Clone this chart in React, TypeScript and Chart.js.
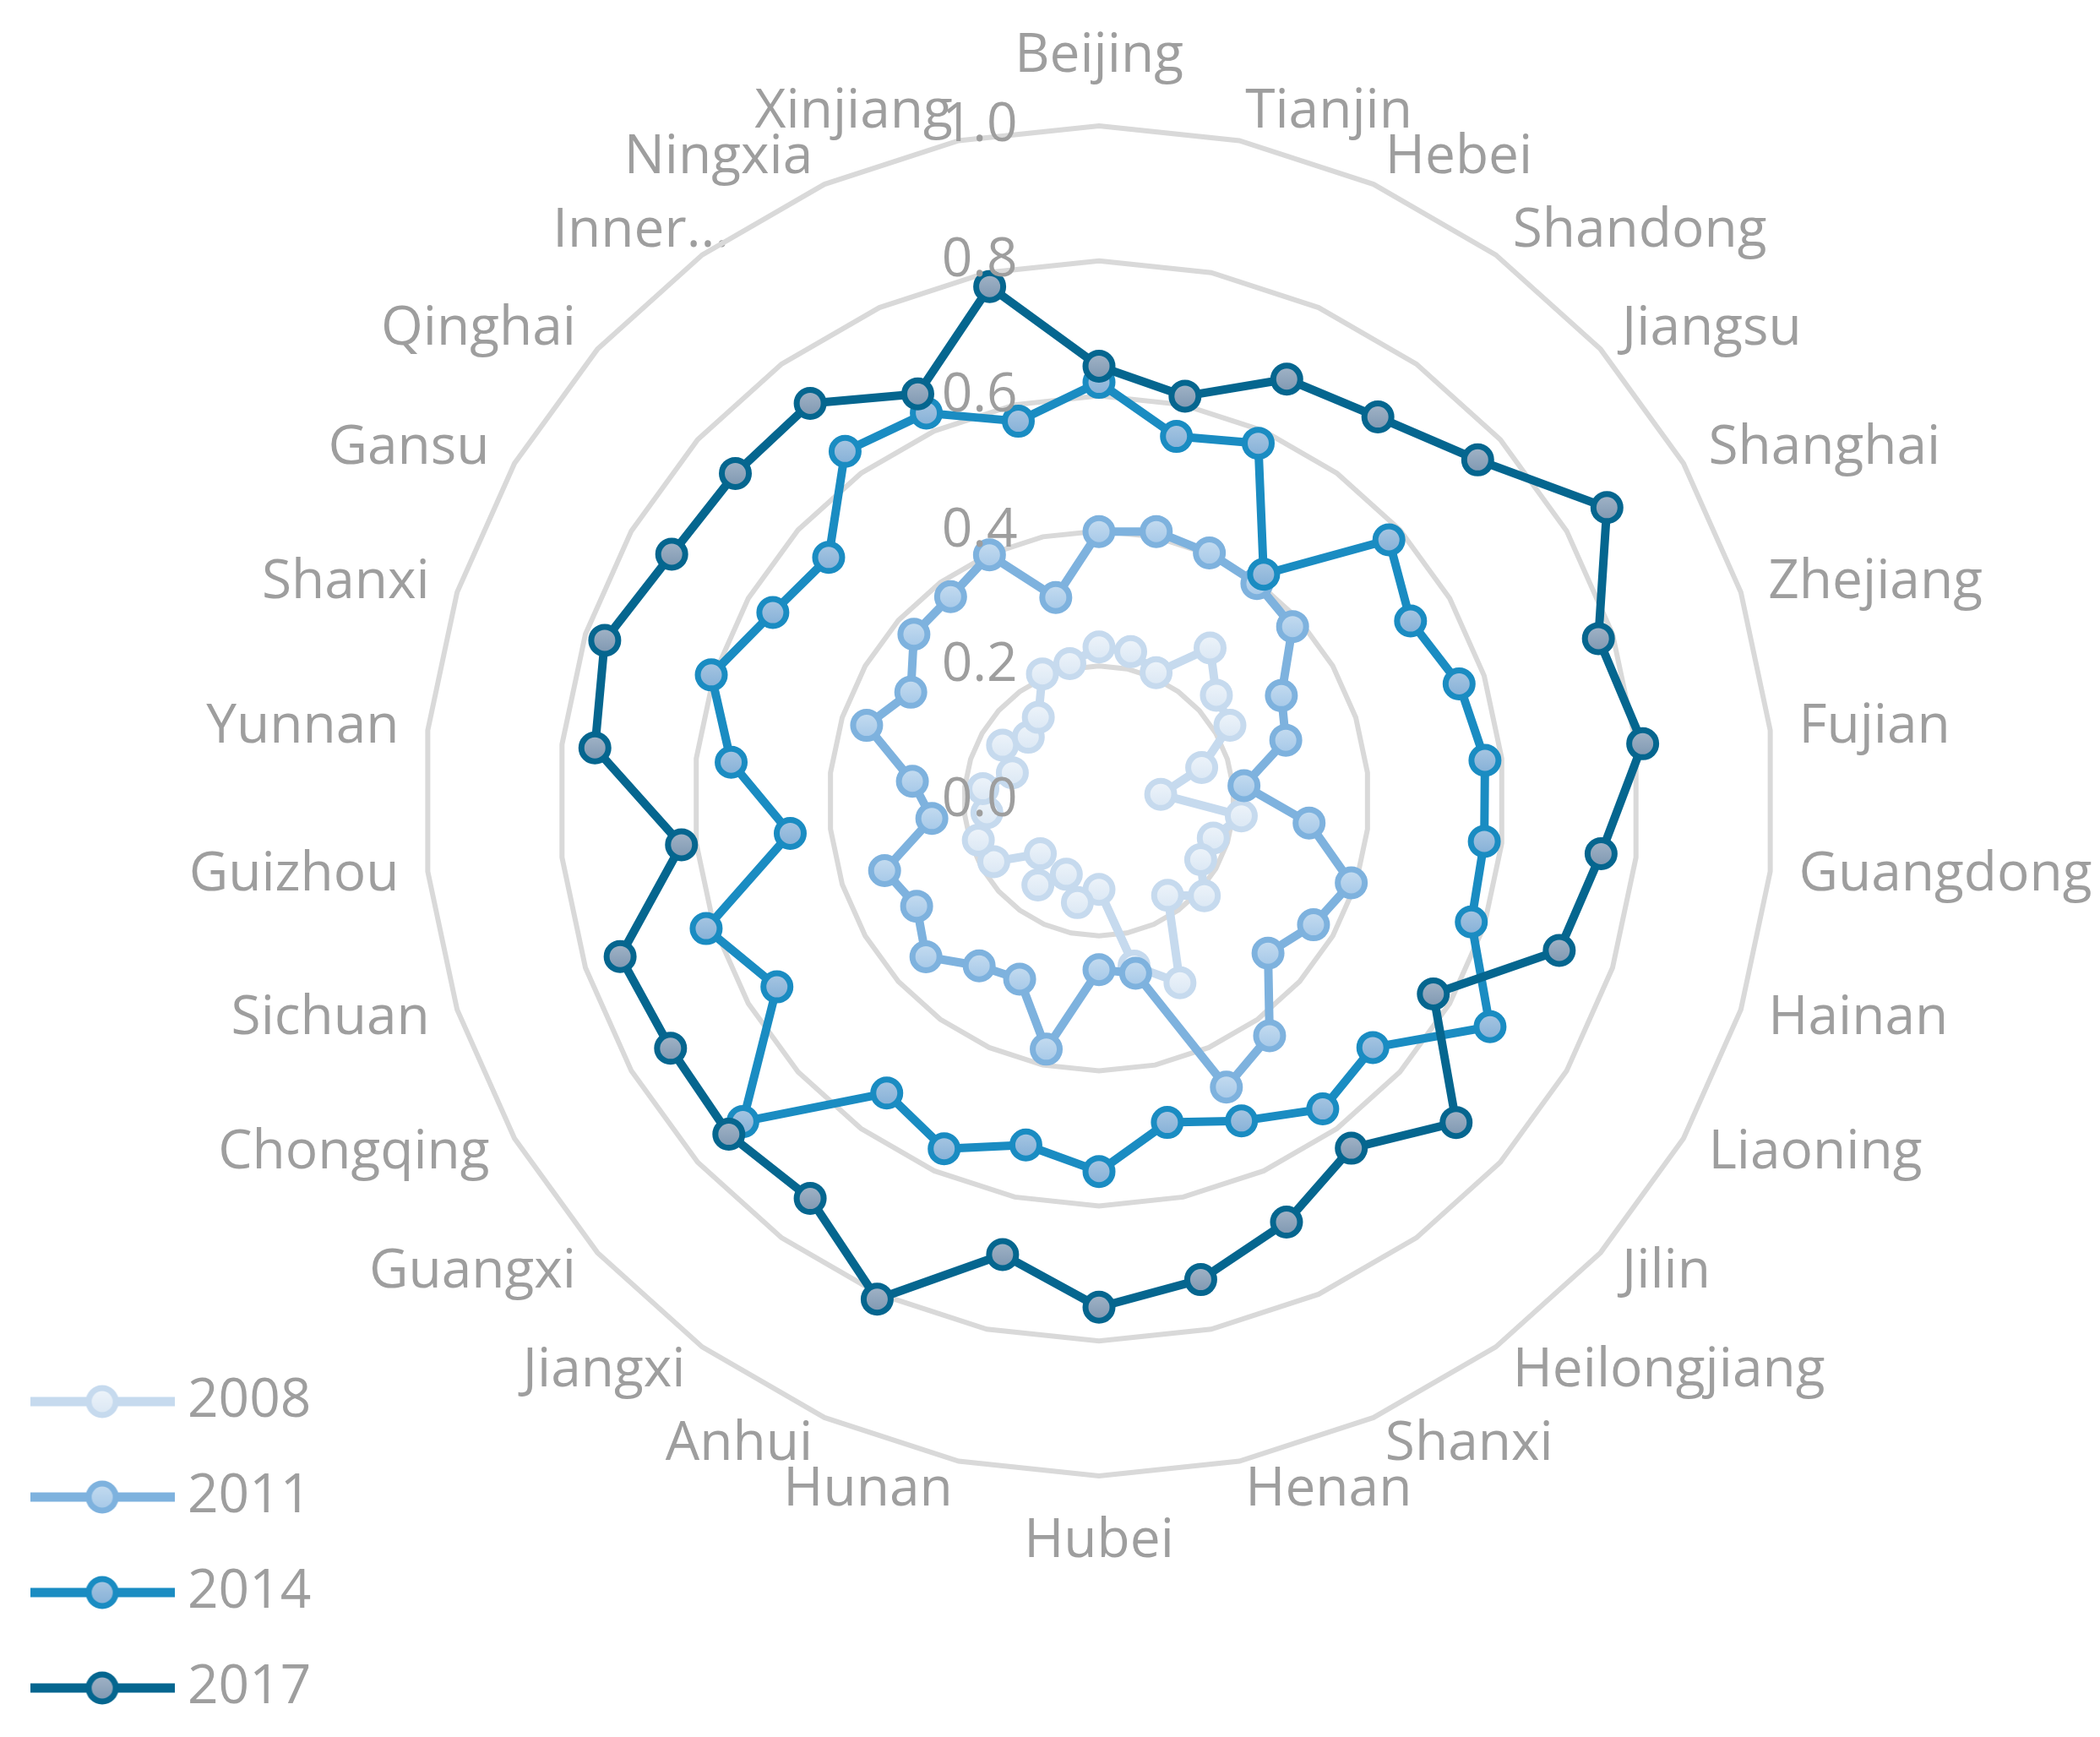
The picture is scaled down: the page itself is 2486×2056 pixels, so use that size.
import React, { useEffect, useRef } from 'react';
import { Chart, registerables } from 'chart.js';

Chart.register(...registerables);

// ---------- data ----------
const provinces = [
  'Beijing', 'Tianjin', 'Hebei', 'Shandong', 'Jiangsu', 'Shanghai', 'Zhejiang', 'Fujian',
  'Guangdong', 'Hainan', 'Liaoning', 'Jilin', 'Heilongjiang', 'Shanxi', 'Henan', 'Hubei',
  'Hunan', 'Anhui', 'Jiangxi', 'Guangxi', 'Chongqing', 'Sichuan', 'Guizhou', 'Yunnan',
  'Shanxi', 'Gansu', 'Qinghai', 'Inner...', 'Ningxia', 'Xinjiang',
];

const years = ['2008', '2011', '2014', '2017'];

const v2008 = [0.228, 0.226, 0.208, 0.280, 0.234, 0.224, 0.160, 0.092, 0.212, 0.178, 0.174, 0.210, 0.173, 0.295, 0.250,
  0.131, 0.154, 0.119, 0.154, 0.117, 0.180, 0.188, 0.167, 0.173, 0.135, 0.165, 0.141, 0.153, 0.206, 0.208];
const v2011 = [0.399, 0.408, 0.402, 0.398, 0.386, 0.312, 0.291, 0.216, 0.313, 0.393, 0.367, 0.337, 0.430, 0.464, 0.261,
  0.250, 0.376, 0.289, 0.302, 0.345, 0.312, 0.334, 0.249, 0.278, 0.362, 0.322, 0.369, 0.374, 0.399, 0.308];
const v2014 = [0.620, 0.552, 0.580, 0.415, 0.578, 0.533, 0.561, 0.575, 0.574, 0.580, 0.669, 0.546, 0.564, 0.519, 0.487,
  0.549, 0.521, 0.564, 0.535, 0.710, 0.551, 0.612, 0.460, 0.548, 0.604, 0.558, 0.539, 0.640, 0.629, 0.575];
const v2017 = [0.644, 0.613, 0.684, 0.703, 0.755, 0.869, 0.778, 0.810, 0.748, 0.717, 0.572, 0.712, 0.636, 0.683, 0.725,
  0.750, 0.687, 0.808, 0.728, 0.738, 0.733, 0.746, 0.622, 0.751, 0.770, 0.731, 0.725, 0.728, 0.660, 0.779];

const tickValues = [0, 0.2, 0.4, 0.6, 0.8, 1.0];

// ---------- style ----------
const lineColors = ['#C6DAEE', '#7EB2DE', '#1A8CC2', '#05668F'];
const fillTops = ['#EEF4FA', '#C5DCF0', '#A7C6E2', '#A2B4C7'];
const fillBottoms = ['#DAE7F4', '#A5C8E8', '#85B0D7', '#7E97B1'];
const TEXT_GRAY = '#9E9E9E';
const GRID_GRAY = '#D9D9D9';
const FONT = "'Open Sans', sans-serif";

const W = 2470;
const H = 2040;
const CX = 1293;
const CY = 940;
const R = 799;
const TICK_PAD = ' '.repeat(17);

function makeLegendImage(line: string, top: string, bottom: string) {
  const c = document.createElement('canvas');
  c.width = 171;
  c.height = 44;
  const g = c.getContext('2d') as CanvasRenderingContext2D;
  g.strokeStyle = line;
  g.lineWidth = 11;
  g.beginPath();
  g.moveTo(0, 22);
  g.lineTo(171, 22);
  g.stroke();
  const grad = g.createLinearGradient(0, 6, 0, 38);
  grad.addColorStop(0, top);
  grad.addColorStop(1, bottom);
  g.beginPath();
  g.arc(85.5, 22, 16, 0, Math.PI * 2);
  g.fillStyle = grad;
  g.fill();
  g.lineWidth = 7;
  g.strokeStyle = line;
  g.stroke();
  return c;
}

function markerFill(top: string, bottom: string) {
  return (ctx: any) => {
    const chart = ctx.chart;
    const scale = chart && chart.scales && chart.scales.r;
    if (!scale || ctx.dataIndex === undefined || typeof ctx.raw !== 'number') return bottom;
    const p = scale.getPointPositionForValue(ctx.dataIndex, ctx.raw);
    const grad = chart.ctx.createLinearGradient(0, p.y - 16, 0, p.y + 16);
    grad.addColorStop(0, top);
    grad.addColorStop(1, bottom);
    return grad;
  };
}

// per-label placement tweaks (radial padding and line height used for vertical placement)
function labelPadding(i: number) {
  if (i === 0) return 48;
  if (i === 15) return 43;
  if (i === 27) return -88;
  return 0;
}
function labelLineHeight(i: number) {
  return i === 27 ? '144px' : '1px';
}

export default function App() {
  const ref = useRef<HTMLCanvasElement>(null);

  useEffect(() => {
    const canvas = ref.current;
    if (!canvas) return;
    const series = [v2008, v2011, v2014, v2017];
    const legendImgs = years.map((_, i) => makeLegendImage(lineColors[i], fillTops[i], fillBottoms[i]));

    Chart.defaults.font.family = FONT;

    const chart = new Chart(canvas, {
      type: 'radar',
      data: {
        labels: provinces,
        datasets: years.map((y, i) => ({
          label: y,
          data: series[i],
          order: years.length - i,
          borderColor: lineColors[i],
          borderWidth: 10,
          borderJoinStyle: 'round',
          backgroundColor: 'rgba(0,0,0,0)',
          fill: false,
          tension: 0,
          clip: false,
          pointRadius: 16,
          pointHoverRadius: 16,
          pointBorderWidth: 7,
          pointBorderColor: lineColors[i],
          pointBackgroundColor: markerFill(fillTops[i], fillBottoms[i]),
        })),
      } as any,
      options: {
        responsive: false,
        animation: false,
        devicePixelRatio: 1,
        events: [],
        layout: { padding: { left: -5, top: 0, right: 0, bottom: -31 } },
        plugins: {
          tooltip: { enabled: false },
          legend: {
            position: 'left',
            align: 'end',
            labels: {
              usePointStyle: true,
              pointStyleWidth: 138,
              padding: 49,
              color: TEXT_GRAY,
              textAlign: 'left',
              font: { family: FONT, size: 64 },
              generateLabels: () =>
                years.map((y, i) => ({
                  text: y,
                  pointStyle: legendImgs[i],
                  fillStyle: 'rgba(0,0,0,0)',
                  strokeStyle: 'rgba(0,0,0,0)',
                  lineWidth: 0,
                  hidden: false,
                  datasetIndex: i,
                  fontColor: TEXT_GRAY,
                  textAlign: 'left',
                })),
            },
          },
        },
        scales: {
          r: {
            min: -1e-9,
            max: 1,
            startAngle: 0,
            ticks: {
              stepSize: 0.2,
              z: 1,
              showLabelBackdrop: false,
              color: TEXT_GRAY,
              font: { family: FONT, size: 64 },
              callback: (v: any) => (Math.abs(v) < 1e-6 ? 0 : Number(v)).toFixed(1) + TICK_PAD,
            },
            afterBuildTicks: (scale: any) => {
              scale.ticks = tickValues.map((v) => ({ value: v }));
            },
            grid: {
              color: (c: any) => (c.index === 0 ? 'rgba(0,0,0,0)' : GRID_GRAY),
              lineWidth: 6,
            },
            angleLines: { display: false },
            pointLabels: {
              display: true,
              color: TEXT_GRAY,
              font: (c: any) => ({ family: FONT, size: 64, lineHeight: labelLineHeight(c.index) }),
              padding: (c: any) => labelPadding(c.index),
            },
            afterFit: (scale: any) => {
              scale.xCenter = CX;
              scale.yCenter = CY;
              scale.drawingArea = R;
              scale.setCenterPoint = () => {};
              scale.fit();
              delete scale.setCenterPoint;
            },
          } as any,
        },
      } as any,
    });

    return () => chart.destroy();
  }, []);

  return (
    <div style={{ width: W, height: H }}>
      <canvas ref={ref} width={W} height={H} style={{ display: 'block', width: W, height: H }} />
    </div>
  );
}
